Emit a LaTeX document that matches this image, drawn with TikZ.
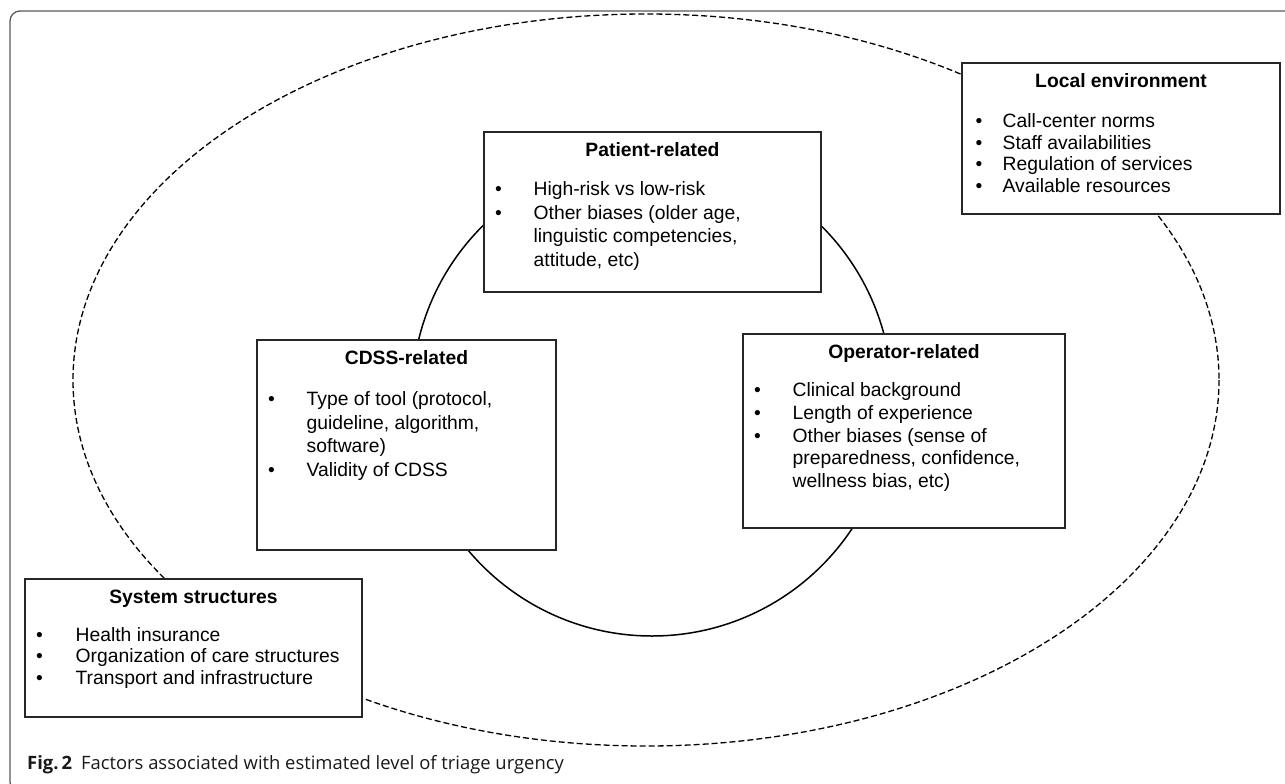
\documentclass[tikz,border=0pt]{standalone}
\usepackage{fontspec}
\setmainfont{Liberation Sans}
\newfontfamily\capfont{Open Sans}
\usetikzlibrary{calc}
\newcommand{\blist}[3]{\fontsize{19.3}{#2}\selectfont\begin{tabular}[t]{@{}p{#1}@{}l@{}}#3\end{tabular}}
\begin{document}
\begin{tikzpicture}[x=1pt,y=-1pt,
  frame/.style={draw=black!65, line width=1.3pt, rounded corners=10pt},
  outer/.style={draw=black, line width=1.3pt, dash pattern=on 6pt off 3pt},
  inner/.style={draw=black, line width=1.5pt},
  fbox/.style={draw=black!85, line width=1.1pt, fill=white, rectangle, inner sep=0pt},
  ttl/.style={anchor=base, inner sep=0pt, font=\fontsize{19.3}{23}\selectfont\bfseries},
  items/.style={anchor=base west, inner sep=0pt}]
\useasboundingbox (0,0) rectangle (1285,784);
\begin{scope}
\clip (0,0) rectangle (1285,784);
\draw[frame] (1300,11) -- (10,11) -- (10,792) -- (1300,792);
\end{scope}
% ellipses
\draw[outer] (646,380) ellipse [x radius=573, y radius=366];
\draw[inner] (652,396) circle [radius=240];
% boxes
\node[fbox, minimum width=337pt, minimum height=160pt] (P) at (652.5,212) {};
\node[fbox, minimum width=299pt, minimum height=210pt] (C) at (406.5,445) {};
\node[fbox, minimum width=322pt, minimum height=194pt] (O) at (904,431) {};
\node[fbox, minimum width=318pt, minimum height=151pt] (L) at (1121,138.5) {};
\node[fbox, minimum width=337pt, minimum height=138pt] (S) at (193.5,648) {};
% titles
\node[ttl] (Pt) at ($(P.north)+(0,25)$) {Patient-related};
\node[ttl] (Ct) at ($(C.north)+(0,25)$) {CDSS-related};
\node[ttl] (Ot) at ($(O.north)+(0,25)$) {Operator-related};
\node[ttl] (Lt) at ($(L.north)+(0,25)$) {Local environment};
\node[ttl] (St) at ($(S.north)+(0,25)$) {System structures};
% items
\node[items] (Pi) at ($(P.north west)+(11.5,64)$) {\blist{38.5pt}{23.7}{%
  • & High-risk vs low-risk\\
  • & Other biases (older age,\\
    & linguistic competencies,\\
    & attitude, etc)}};
\node[items] (Ci) at ($(C.north west)+(11.5,66)$) {\blist{38.5pt}{23.6}{%
  • & Type of tool (protocol,\\
    & guideline, algorithm,\\
    & software)\\
  • & Validity of CDSS}};
\node[items] (Oi) at ($(O.north west)+(11.5,63)$) {\blist{38.5pt}{22.8}{%
  • & Clinical background\\
  • & Length of experience\\
  • & Other biases (sense of\\
    & preparedness, confidence,\\
    & wellness bias, etc)}};
\node[items] (Li) at ($(L.north west)+(14,65)$) {\blist{27pt}{21.7}{%
  • & Call-center norms\\
  • & Staff availabilities\\
  • & Regulation of services\\
  • & Available resources}};
\node[items] (Si) at ($(S.north west)+(11.5,63)$) {\blist{39.5pt}{21.5}{%
  • & Health insurance\\
  • & Organization of care structures\\
  • & Transport and infrastructure}};
% caption
\node[anchor=base west, inner sep=0pt, text=black!90, font=\capfont\fontsize{18.4}{20}\selectfont] (cap) at (27,769)
  {\textbf{Fig.\,2}\hspace{9pt}Factors associated with estimated level of triage urgency};
\end{tikzpicture}
\end{document}
